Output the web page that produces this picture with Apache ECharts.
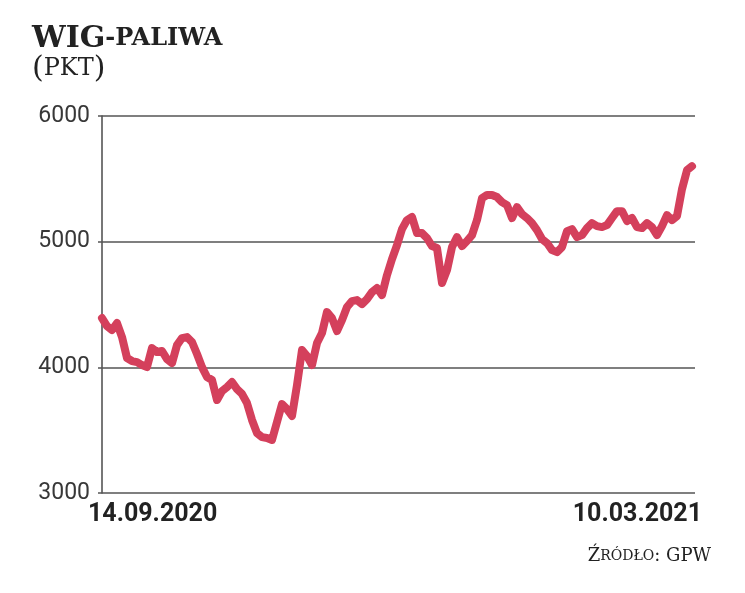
<!DOCTYPE html>
<html>
<head>
<meta charset="utf-8">
<script src="https://cdn.jsdelivr.net/npm/echarts@6/dist/echarts.min.js"></script>
<style>
  html, body { margin: 0; padding: 0; background: #fff; }
  #chart { width: 745px; height: 593px; }
</style>
</head>
<body>
<div id="chart"></div>
<script>
// WIG-paliwa, daily close (pkt), 14.09.2020 - 10.03.2021
var closes = [
  4392, 4328, 4297, 4352, 4241, 4074, 4050, 4042, 4018, 4002,
  4153, 4122, 4130, 4066, 4034, 4177, 4233, 4241, 4201, 4106,
  4002, 3923, 3899, 3740, 3811, 3843, 3883, 3827, 3788, 3716,
  3581, 3477, 3445, 3438, 3422, 3565, 3708, 3668, 3613, 3859,
  4138, 4090, 4018, 4193, 4273, 4440, 4392, 4289, 4376, 4480,
  4527, 4535, 4503, 4543, 4599, 4631, 4575, 4734, 4861, 4973,
  5100, 5172, 5196, 5068, 5068, 5029, 4965, 4949, 4671, 4774,
  4957, 5036, 4965, 5005, 5052, 5172, 5347, 5371, 5371, 5355,
  5315, 5291, 5188, 5275, 5219, 5188, 5148, 5092, 5021, 4989,
  4933, 4917, 4957, 5084, 5100, 5036, 5052, 5108, 5148, 5124,
  5116, 5132, 5188, 5243, 5243, 5164, 5188, 5116, 5108, 5148,
  5116, 5052, 5124, 5211, 5172, 5204, 5418, 5569, 5601
];
var dateLabels = ['14.09.2020', '10.03.2021'];
var yTicks = [3000, 4000, 5000, 6000];

var lineColor = '#d4405c';
var gridColor = '#555';
var serif = '"DejaVu Serif", "Liberation Serif", serif';

var chart = echarts.init(document.getElementById('chart'), null, { renderer: 'canvas' });

chart.setOption({
  animation: false,
  backgroundColor: '#fff',
  title: [{
    left: 27,
    top: 17,
    text: '{a|WIG}{b|-PALIWA}',
    subtext: '{p|(}{c|PKT}{p|)}',
    itemGap: 0,
    textStyle: {
      rich: {
        a: { fontFamily: serif, fontWeight: 'bold', fontSize: 30, color: '#222', lineHeight: 34 },
        b: { fontFamily: serif, fontWeight: 'bold', fontSize: 24, color: '#222', lineHeight: 34 }
      }
    },
    subtextStyle: {
      rich: {
        p: { fontFamily: serif, fontSize: 30, color: '#222', lineHeight: 34 },
        c: { fontFamily: serif, fontSize: 24, color: '#222', lineHeight: 34 }
      }
    }
  }, {
    right: 29,
    top: 542,
    text: '{a|Ź}{b|RÓDŁO}{a|: GPW}',
    textStyle: {
      rich: {
        a: { fontFamily: serif, fontWeight: 'normal', fontSize: 18, color: '#222' },
        b: { fontFamily: serif, fontWeight: 'normal', fontSize: 14, color: '#222' }
      }
    }
  }],
  grid: [
    { left: 98, right: 50, top: 116, bottom: 100 },
    { left: 88, right: 43, top: 116, bottom: 100 }
  ],
  xAxis: [{
    type: 'value',
    gridIndex: 0,
    min: -0.8,
    max: 118.6,
    axisLine: { show: false },
    axisTick: { show: false },
    axisLabel: { show: false },
    splitLine: { show: false }
  }, {
    type: 'category',
    gridIndex: 1,
    data: dateLabels,
    boundaryGap: false,
    axisLine: { show: false },
    axisTick: { show: false },
    splitLine: { show: false },
    axisLabel: {
      margin: 9,
      alignMinLabel: 'left',
      alignMaxLabel: 'right',
      fontFamily: 'Roboto, sans-serif',
      fontWeight: 'bold',
      fontSize: 25,
      color: '#222'
    }
  }],
  yAxis: [{
    type: 'value',
    gridIndex: 0,
    min: yTicks[0],
    max: yTicks[yTicks.length - 1],
    interval: 1000,
    axisLine: { show: true, lineStyle: { color: gridColor, width: 1.6 } },
    axisTick: { show: false },
    axisLabel: {
      margin: 8,
      fontFamily: 'Roboto, "Noto Sans", sans-serif',
      fontSize: 23,
      color: '#383838',
      formatter: function (v) { return String(v); },
      padding: [0, 0, 4, 0]
    },
    splitLine: { show: true, lineStyle: { color: gridColor, width: 1.6 } }
  }, {
    type: 'value',
    gridIndex: 1,
    show: false
  }],
  series: [{
    type: 'line',
    xAxisIndex: 0,
    yAxisIndex: 0,
    data: closes.map(function (v, i) { return [i, v]; }),
    showSymbol: false,
    smooth: false,
    lineStyle: { color: lineColor, width: 8, cap: 'round', join: 'round' }
  }]
});
</script>
</body>
</html>
